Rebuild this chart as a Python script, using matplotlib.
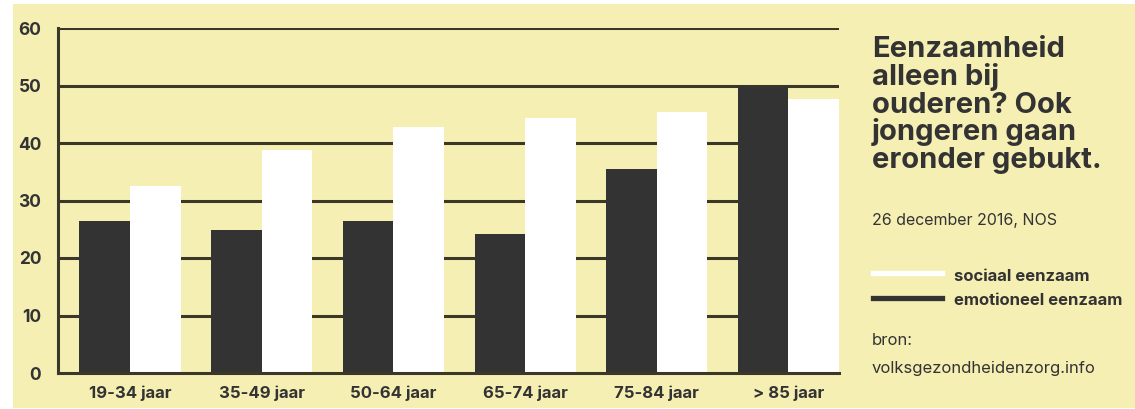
import matplotlib.pyplot as plt
import numpy as np
from matplotlib.patches import Rectangle

# Leeftijdsgroepen en percentages eenzaamheid
groepen = ['19-34 jaar', '35-49 jaar', '50-64 jaar', '65-74 jaar', '75-84 jaar', '> 85 jaar']
emotioneel = [26.5, 24.9, 26.5, 24.2, 35.4, 50.0]
sociaal = [32.6, 38.7, 42.8, 44.3, 45.4, 47.7]
yticks = [0, 10, 20, 30, 40, 50, 60]

titel = ['Eenzaamheid', 'alleen bij', 'ouderen? Ook', 'jongeren gaan', 'eronder gebukt.']

geel = '#f6efb4'
donker = '#333333'
lijn = '#3b3828'
plt.rcParams['font.family'] = ['Inter', 'DejaVu Sans']

W, H = 1135, 409
fig = plt.figure(figsize=(W / 100, H / 100), dpi=100, facecolor='white')
# gele achtergrond met smalle witte rand links en boven
fig.patches.append(Rectangle((13 / W, 1 / H), 1 - 13 / W, 404 / H,
                             transform=fig.transFigure, facecolor=geel,
                             edgecolor='none', zorder=-10))

ax = fig.add_axes([58 / W, 36 / H, 781 / W, 345 / H])
ax.set_facecolor('none')

x = np.arange(len(groepen))
w = 0.384
ax.bar(x - w / 2, emotioneel, width=w, color=donker, zorder=3)
ax.bar(x + w / 2, sociaal, width=w, color='white', zorder=3)

ax.set_xlim(-0.547, len(groepen) - 1 + w)
ax.set_ylim(0, 60)
ax.set_yticks(yticks)
for t in yticks[1:]:
    ax.axhline(t, color=lijn, lw=2.2, zorder=1)

for s in ['top', 'right']:
    ax.spines[s].set_visible(False)
ax.spines['left'].set_color(lijn)
ax.spines['left'].set_linewidth(2.2)
ax.spines['bottom'].set_color(lijn)
ax.spines['bottom'].set_linewidth(2.2)
ax.spines['bottom'].set_zorder(4)

ax.set_xticks(x)
ax.set_xticklabels(groepen)
ax.tick_params(axis='both', length=0, colors=donker)
ax.tick_params(axis='y', pad=12, labelsize=12.5)
ax.tick_params(axis='x', pad=9, labelsize=12)
for lbl in ax.get_xticklabels() + ax.get_yticklabels():
    lbl.set_fontweight('bold')

# titel, regel voor regel
for i, regel in enumerate(titel):
    fig.text(872 / W, 1 - (57 + 27.8 * i) / H, regel, fontsize=21,
             fontweight='bold', color=donker, va='baseline', ha='left')

fig.text(872 / W, 1 - 225 / H, '26 december 2016, NOS',
         fontsize=11.5, color=donker, va='baseline', ha='left')

# legenda
for yy, yt, kleur, tekst in [(273, 281, 'white', 'sociaal eenzaam'),
                             (298, 305, donker, 'emotioneel eenzaam')]:
    fig.add_artist(plt.Line2D([873 / W, 942 / W], [1 - yy / H] * 2,
                              transform=fig.transFigure, color=kleur, lw=3.8))
    fig.text(954 / W, 1 - yt / H, tekst, fontsize=12, fontweight='bold',
             color=donker, va='baseline', ha='left')

fig.text(872 / W, 1 - 345 / H, 'bron:', fontsize=12, color=donker,
         va='baseline', ha='left')
fig.text(872 / W, 1 - 373 / H, 'volksgezondheidenzorg.info', fontsize=12,
         color=donker, va='baseline', ha='left')

fig.savefig('out.png', dpi=100, facecolor=fig.get_facecolor())
